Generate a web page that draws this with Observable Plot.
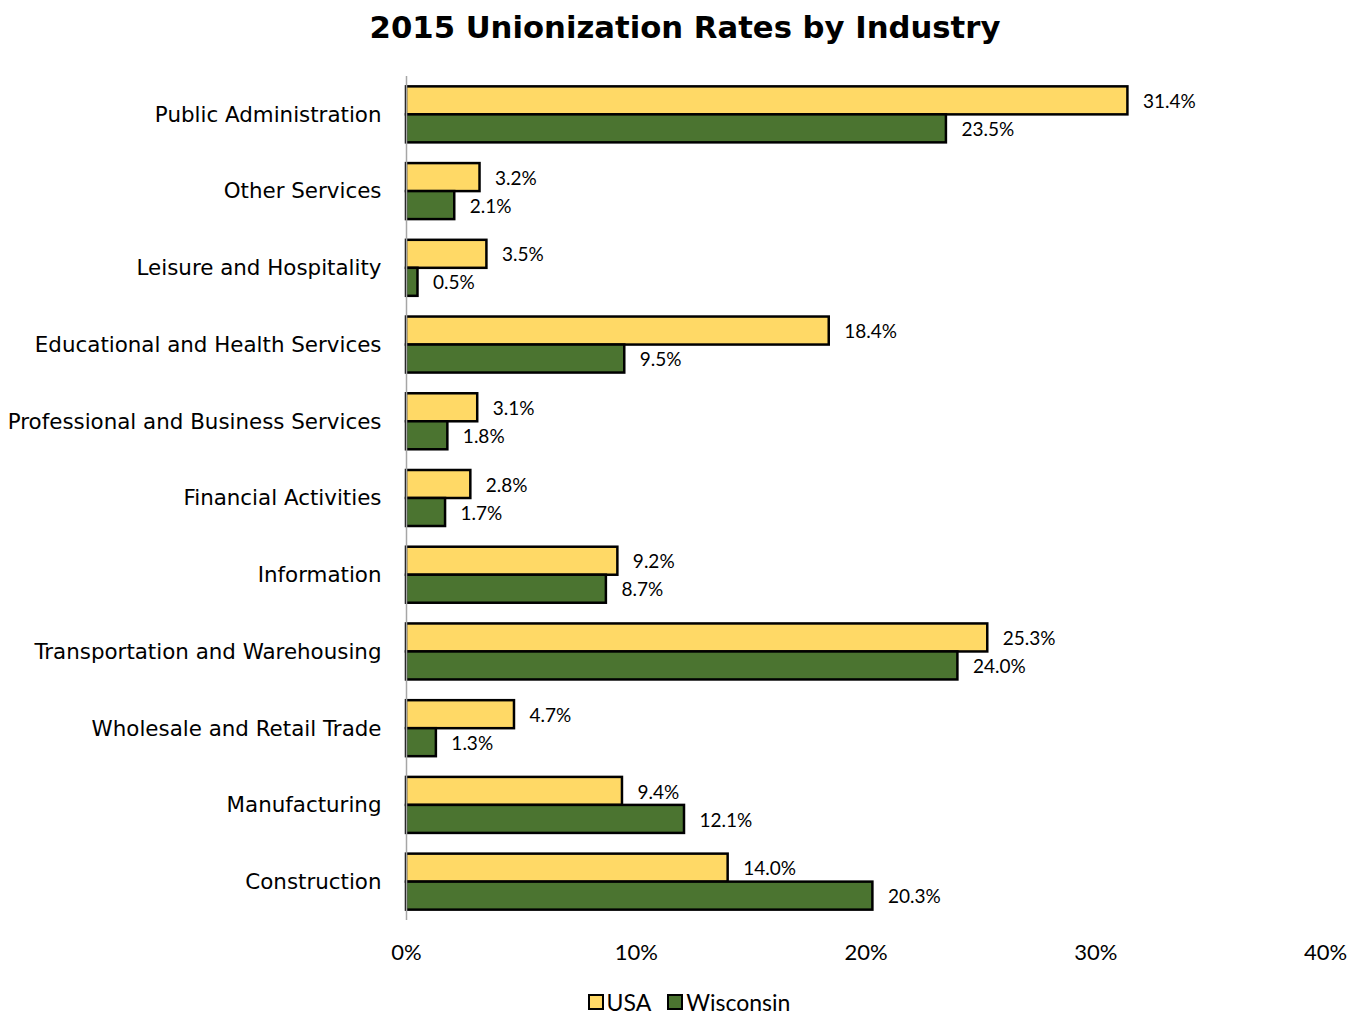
<!DOCTYPE html>
<html>
<head>
<meta charset="utf-8">
<script src="https://cdn.jsdelivr.net/npm/d3@7"></script>
<script src="https://cdn.jsdelivr.net/npm/@observablehq/plot@0.6"></script>
<style>
  body { margin: 0; background: #fff; width: 1366px; }
  #title { height: 56px; line-height: 56px; text-align: center; font-family: "DejaVu Sans", sans-serif; font-weight: bold; font-size: 30.7px; color: #000; padding-left: 4px; }
  #legend { display: flex; justify-content: center; align-items: center; font-family: Lato, sans-serif; font-size: 23px; color: #000; margin-top: 0px; padding-left: 12px; height: 32px; }
  .sw { display: inline-block; width: 12px; height: 12px; border: 2px solid #000; margin-right: 3px; }
  .item { display: flex; align-items: center; margin: 0 8px; }
</style>
</head>
<body>
<div id="title">2015 Unionization Rates by Industry</div>
<div id="chart"></div>
<div id="legend"></div>
<script>
const industries = [
  "Public Administration",
  "Other Services",
  "Leisure and Hospitality",
  "Educational and Health Services",
  "Professional and Business Services",
  "Financial Activities",
  "Information",
  "Transportation and Warehousing",
  "Wholesale and Retail Trade",
  "Manufacturing",
  "Construction"
];
const usa = [31.4, 3.2, 3.5, 18.4, 3.1, 2.8, 9.2, 25.3, 4.7, 9.4, 14.0];
const wisconsin = [23.5, 2.1, 0.5, 9.5, 1.8, 1.7, 8.7, 24.0, 1.3, 12.1, 20.3];
const seriesNames = ["USA", "Wisconsin"];
const seriesColors = ["#FFD966", "#4B7430"];
const xTicks = [0, 10, 20, 30, 40];

const usaData = industries.map((d, i) => ({industry: d, value: usa[i]}));
const wiData = industries.map((d, i) => ({industry: d, value: wisconsin[i]}));
const fmt = v => v.toFixed(1) + "%";

const chart = Plot.plot({
  width: 1366,
  height: 930,
  marginLeft: 406,
  marginRight: 41,
  marginTop: 20,
  marginBottom: 66,
  style: {fontFamily: "Lato, sans-serif", background: "#fff", color: "#000"},
  x: {domain: [0, 40], ticks: xTicks, label: null},
  y: {domain: industries, paddingInner: 0.27, paddingOuter: 0.135, round: false, label: null},
  marks: [
    Plot.axisY({tickSize: 0, tickPadding: 25, fontSize: 21.4, fontFamily: "DejaVu Sans, sans-serif", label: null}),
    Plot.axisX(xTicks, {tickSize: 0, tickPadding: 24, fontSize: 22, tickFormat: d => d + "%", label: null}),
    Plot.barX(usaData, {x: "value", y: "industry", fill: seriesColors[0], stroke: "#000", strokeWidth: 2.5, insetBottom: 28}),
    Plot.text(usaData, {x: "value", y: "industry", text: d => fmt(d.value), dx: 15, dy: -13, textAnchor: "start", fontSize: 19, fill: "#000"}),
    Plot.barX(wiData, {x: "value", y: "industry", fill: seriesColors[1], stroke: "#000", strokeWidth: 2.5, insetTop: 28}),
    Plot.ruleX([0], {stroke: "#a6a6a6", strokeWidth: 1.5}),
    Plot.text(wiData, {x: "value", y: "industry", text: d => fmt(d.value), dx: 15, dy: 15, textAnchor: "start", fontSize: 19, fill: "#000"})
  ]
});
document.getElementById("chart").appendChild(chart);

const legend = document.getElementById("legend");
seriesNames.forEach((name, i) => {
  const item = document.createElement("span");
  item.className = "item";
  const sw = document.createElement("span");
  sw.className = "sw";
  sw.style.background = seriesColors[i];
  item.appendChild(sw);
  item.appendChild(document.createTextNode(name));
  legend.appendChild(item);
});
</script>
</body>
</html>
